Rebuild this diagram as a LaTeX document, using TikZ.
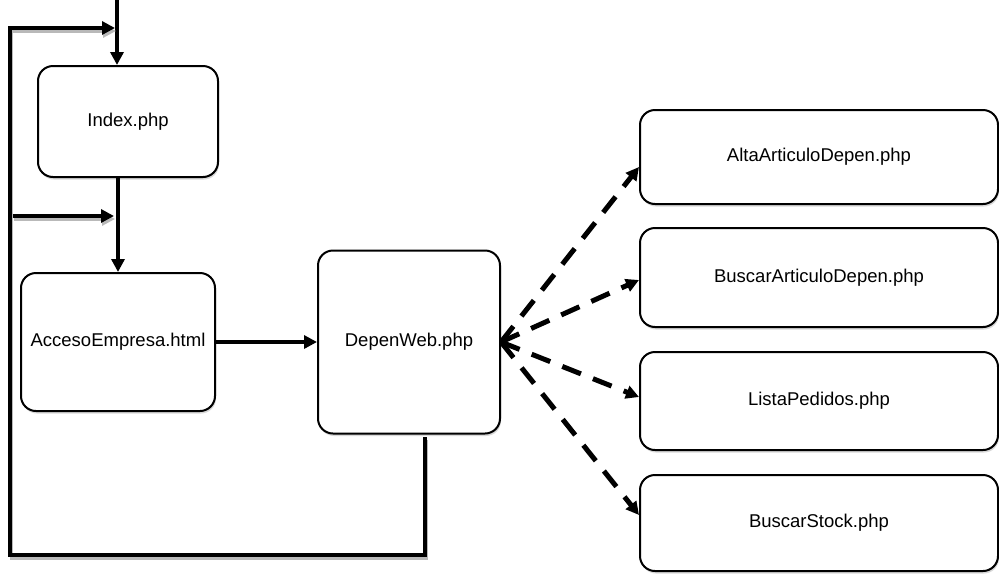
\documentclass[tikz,border=0pt]{standalone}
\usepackage{fontspec}
\setmainfont{Liberation Sans}
\usetikzlibrary{arrows.meta,shadows,calc}
\begin{document}
\begin{tikzpicture}[x=1pt,y=-1pt,
  pbox/.style={draw=black, line width=2pt, rounded corners=15pt, fill=white,
    inner sep=0pt, font=\fontsize{18.5}{22}\selectfont,
    drop shadow={shadow xshift=1pt, shadow yshift=-2.5pt, opacity=0.3, fill=gray}},
  solidarrow/.style={line width=4pt, -{Triangle[length=13pt,width=13pt]}},
  fbline/.style={line width=4pt, preaction={draw=gray!55, line width=3pt, transform canvas={shift={(1pt,-3pt)}}}},
  dasharrow/.style={line width=5pt, dash pattern=on 20pt off 13pt, -{Triangle[length=13pt,width=13pt]}}
]
\useasboundingbox (0,0) rectangle (999,574);
\fill[white] (0,0) rectangle (999,574);

\node[pbox, minimum width=180pt, minimum height=111pt] (idx) at (128,121.5) {Index.php};
\node[pbox, minimum width=194pt, minimum height=138pt] (acc) at (118,342) {AccesoEmpresa.html};
\node[pbox, minimum width=182pt, minimum height=183pt] (dw) at (409,342) {DepenWeb.php};
\node[pbox, minimum width=358pt, minimum height=94pt] (alta) at (819,157) {AltaArticuloDepen.php};
\node[pbox, minimum width=358pt, minimum height=99pt] (busc) at (819,277.5) {BuscarArticuloDepen.php};
\node[pbox, minimum width=358pt, minimum height=98pt] (lista) at (819,401) {ListaPedidos.php};
\node[pbox, minimum width=358pt, minimum height=96pt] (stock) at (819,523) {BuscarStock.php};

% top entry
\coordinate (topin) at (117,0);
\draw[solidarrow] (topin) -- (topin |- idx.north);
% index -> acceso
\draw[solidarrow] (idx.south -| acc.north) -- (acc.north);
% acceso -> depenweb
\draw[solidarrow] (acc.east) -- (dw.west);

% feedback loop
\coordinate (fb0) at (425,437);
\coordinate (fb1) at (425,555);
\coordinate (fb2) at (10,555);
\coordinate (fb3) at (10,28);
\coordinate (fb4) at (115,28);
\draw[fbline, -{Triangle[length=13pt,width=13pt]}] (fb0) -- (fb1) -- (fb2) -- (fb3) -- (fb4);

% short entry arrow
\coordinate (se0) at (13,216);
\coordinate (se1) at (114,216);
\draw[fbline, -{Triangle[length=13pt,width=13pt]}] (se0) -- (se1);

% dashed arrows
\draw[dasharrow] (dw.east) -- ($(alta.west)+(0,10)$);
\draw[dasharrow] (dw.east) -- ($(busc.west)+(0,2.5)$);
\draw[dasharrow] (dw.east) -- ($(lista.west)+(0,-4)$);
\draw[dasharrow] (dw.east) -- ($(stock.west)+(0,-8)$);
\end{tikzpicture}
\end{document}
